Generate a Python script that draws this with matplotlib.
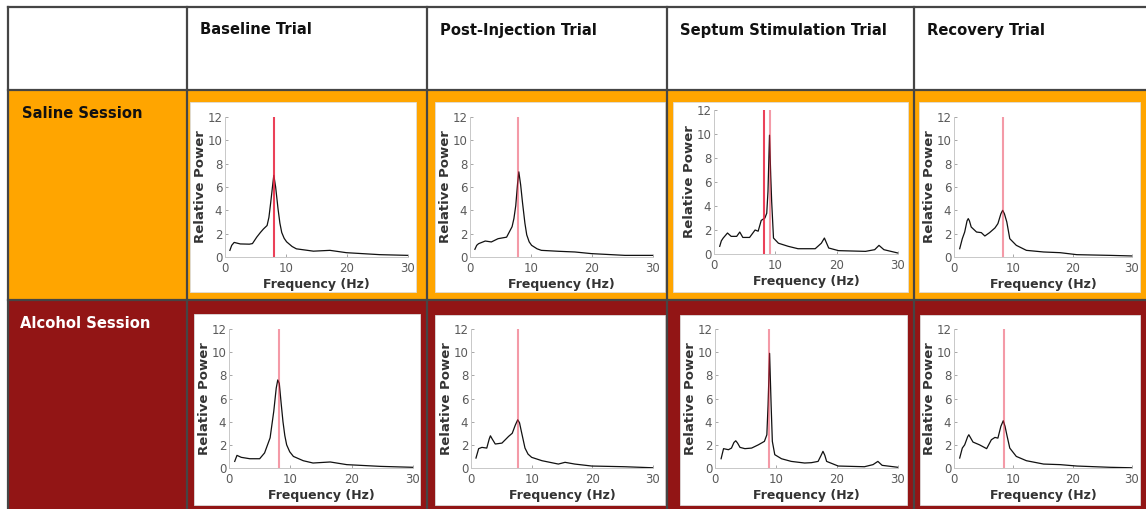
import matplotlib
matplotlib.use("Agg")
import matplotlib.pyplot as plt
from matplotlib.patches import Rectangle
from matplotlib.lines import Line2D

# ---- Spectra: frequency (Hz) and relative power, one pair per trial ----
saline_baseline_f = [0.8, 1.1, 1.5, 2.5, 4.0, 4.5, 5.2, 5.8, 6.3, 6.9, 7.2, 7.5, 7.8, 8.0, 8.3, 8.7, 9.0, 9.3, 9.7, 10.1, 11.0, 11.7, 14.5, 17.2, 19.9, 25.4, 30.0]
saline_baseline_p = [0.57, 1.0, 1.25, 1.12, 1.1, 1.15, 1.7, 2.1, 2.4, 2.7, 3.4, 4.7, 6.1, 7.0, 6.0, 4.1, 2.9, 2.1, 1.6, 1.3, 0.9, 0.7, 0.5, 0.57, 0.37, 0.2, 0.14]

saline_post_f = [0.8, 1.1, 1.4, 2.5, 3.5, 4.6, 6.0, 6.9, 7.2, 7.5, 7.8, 8.0, 8.3, 8.6, 9.0, 9.3, 9.7, 10.1, 11.0, 11.7, 14.5, 17.2, 19.9, 25.4, 30.0]
saline_post_p = [0.66, 1.0, 1.14, 1.37, 1.29, 1.57, 1.7, 2.6, 3.3, 4.4, 6.3, 7.3, 6.2, 4.7, 2.9, 1.9, 1.3, 1.0, 0.7, 0.57, 0.49, 0.43, 0.29, 0.14, 0.14]

saline_septum_f = [0.93, 1.2, 1.5, 2.2, 2.8, 3.7, 4.2, 4.7, 5.8, 6.7, 7.2, 7.7, 8.3, 8.6, 8.8, 9.05, 9.25, 9.4, 9.7, 10.5, 12.1, 13.7, 16.5, 17.5, 18.0, 18.7, 20.3, 24.7, 26.2, 26.9, 27.7, 30.0]
saline_septum_p = [0.64, 1.1, 1.33, 1.75, 1.47, 1.47, 1.83, 1.38, 1.38, 2.0, 1.9, 2.8, 3.0, 3.4, 5.2, 9.9, 6.5, 4.4, 1.33, 0.9, 0.64, 0.44, 0.44, 0.9, 1.33, 0.5, 0.28, 0.22, 0.36, 0.72, 0.36, 0.08]

saline_recovery_f = [0.96, 1.4, 1.8, 2.2, 2.4, 2.6, 2.9, 3.8, 4.6, 5.2, 6.0, 6.9, 7.4, 7.9, 8.2, 8.5, 8.9, 9.4, 10.5, 12.2, 15.1, 17.9, 20.7, 26.3, 30.0]
saline_recovery_p = [0.71, 1.57, 2.14, 3.1, 3.29, 3.1, 2.57, 2.14, 2.09, 1.8, 2.09, 2.49, 2.86, 3.7, 4.0, 3.7, 3.0, 1.57, 1.0, 0.57, 0.43, 0.37, 0.2, 0.14, 0.09]

alcohol_baseline_f = [0.93, 1.3, 2.0, 3.4, 5.0, 5.8, 6.7, 7.3, 7.7, 7.95, 8.2, 8.5, 8.8, 9.1, 9.4, 9.9, 10.5, 12.1, 13.7, 16.5, 19.2, 24.7, 30.0]
alcohol_baseline_p = [0.57, 1.09, 0.92, 0.8, 0.8, 1.3, 2.6, 4.9, 6.9, 7.6, 7.3, 5.6, 4.0, 2.8, 2.0, 1.4, 1.0, 0.63, 0.43, 0.52, 0.29, 0.14, 0.06]

alcohol_post_f = [0.82, 1.26, 1.8, 2.6, 3.0, 3.2, 3.5, 4.0, 5.1, 6.2, 6.8, 7.3, 7.7, 8.0, 8.3, 8.9, 9.4, 10.0, 11.7, 14.4, 15.5, 17.1, 19.9, 25.3, 30.0]
alcohol_post_p = [0.86, 1.67, 1.78, 1.72, 2.5, 2.78, 2.5, 2.07, 2.15, 2.73, 3.0, 3.7, 4.16, 3.9, 3.16, 1.72, 1.2, 0.92, 0.63, 0.34, 0.49, 0.34, 0.17, 0.11, 0.02]

alcohol_septum_f = [1.0, 1.4, 2.2, 2.7, 3.1, 3.4, 3.7, 4.1, 4.9, 6.0, 7.1, 8.1, 8.5, 8.7, 8.95, 9.2, 9.4, 9.8, 10.9, 12.5, 14.7, 15.8, 16.9, 17.4, 17.7, 18.0, 18.3, 20.2, 24.5, 25.9, 26.7, 27.4, 30.0]
alcohol_septum_p = [0.8, 1.67, 1.58, 1.72, 2.2, 2.35, 2.15, 1.78, 1.67, 1.72, 2.0, 2.3, 2.87, 5.45, 9.9, 5.45, 2.3, 1.15, 0.8, 0.57, 0.43, 0.46, 0.57, 1.1, 1.44, 1.1, 0.57, 0.17, 0.11, 0.29, 0.57, 0.23, 0.06]

alcohol_recovery_f = [0.96, 1.4, 1.8, 2.3, 2.5, 2.8, 3.2, 4.3, 5.5, 6.3, 6.9, 7.4, 7.9, 8.3, 8.6, 8.9, 9.4, 10.5, 12.2, 15.1, 17.9, 20.7, 26.3, 30.0]
alcohol_recovery_p = [0.86, 1.72, 2.0, 2.7, 2.87, 2.6, 2.24, 2.0, 1.67, 2.44, 2.64, 2.58, 3.6, 4.08, 3.6, 2.87, 1.72, 1.0, 0.63, 0.34, 0.29, 0.17, 0.06, 0.02]

# Peak-frequency markers (Hz) for each trial
saline_peaks = [[8.1], [7.9], [8.1, 9.1], [8.3]]
alcohol_peaks = [[8.1], [7.7], [8.9], [8.4]]

trial_names = ["Baseline Trial", "Post-Injection Trial", "Septum Stimulation Trial", "Recovery Trial"]
session_names = ["Saline Session", "Alcohol Session"]

spectra = [
    [(saline_baseline_f, saline_baseline_p), (saline_post_f, saline_post_p),
     (saline_septum_f, saline_septum_p), (saline_recovery_f, saline_recovery_p)],
    [(alcohol_baseline_f, alcohol_baseline_p), (alcohol_post_f, alcohol_post_p),
     (alcohol_septum_f, alcohol_septum_p), (alcohol_recovery_f, alcohol_recovery_p)],
]
peaks = [saline_peaks, alcohol_peaks]

# ---- Figure and layout helpers (pixel coordinates, origin top-left) ----
W, H = 1146, 509
fig = plt.figure(figsize=(W / 100, H / 100), dpi=100)
fig.patch.set_facecolor("white")


def rect(x0, y0, x1, y1, **kw):
    fig.add_artist(Rectangle((x0 / W, 1 - y1 / H), (x1 - x0) / W, (y1 - y0) / H,
                             transform=fig.transFigure, **kw))


def vline(x, y0, y1, **kw):
    fig.add_artist(Line2D([x / W, x / W], [1 - y0 / H, 1 - y1 / H], transform=fig.transFigure, **kw))


def hline(y, x0, x1, **kw):
    fig.add_artist(Line2D([x0 / W, x1 / W], [1 - y / H, 1 - y / H], transform=fig.transFigure, **kw))


ORANGE = "#FFA500"
DARKRED = "#921515"
GRID = "#454545"

# table rows
rect(8, 7, W, 90, facecolor="white", edgecolor="none", zorder=0)
rect(8, 90, W, 300, facecolor=ORANGE, edgecolor="none", zorder=0)
rect(8, 300, W, H + 5, facecolor=DARKRED, edgecolor="none", zorder=0)

col_x = [8, 187, 427, 667, 914]
for x in col_x:
    vline(x, 7, H + 5, color=GRID, lw=1.6, zorder=5)
for y in [7, 90, 300]:
    hline(y, 8, W, color=GRID, lw=1.6, zorder=5)

header_x = [200, 440, 680, 927]
for name, x in zip(trial_names, header_x):
    fig.text(x / W, 1 - 30 / H, name, fontsize=10.6, fontweight="bold", color="#111111",
             ha="left", va="center")
fig.text(22 / W, 1 - 113 / H, session_names[0], fontsize=10.6, fontweight="bold",
         color="#111111", ha="left", va="center")
fig.text(20 / W, 1 - 323 / H, session_names[1], fontsize=10.6, fontweight="bold",
         color="white", ha="left", va="center")

# white plot cards
cards = [
    [(190, 102, 416, 292), (435, 102, 665, 292), (673, 102, 908, 292), (919, 102, 1140, 292)],
    [(194, 314, 420, 505), (435, 315, 665, 505), (680, 315, 907, 505), (920, 315, 1140, 505)],
]
# axes extents: x at 0 Hz, x at 30 Hz, y at 12, y at 0
axes_px = [
    [(225, 408, 117, 257), (470, 653, 117, 257), (714, 898, 110, 254), (954, 1132, 117, 257)],
    [(229, 413, 329, 468), (471, 653, 329, 468), (715, 898, 329, 468), (954, 1132, 329, 468)],
]

TICK = "#5a5a5a"
LABEL = "#333333"
RED = "#e8203c"

for r in range(2):
    for c in range(4):
        x0, y0, x1, y1 = cards[r][c]
        rect(x0, y0, x1, y1, facecolor="white", edgecolor="#dddddd", lw=0.6, zorder=1)
        ax0, ax1, ay_top, ay_bot = axes_px[r][c]
        ax = fig.add_axes([ax0 / W, 1 - ay_bot / H, (ax1 - ax0) / W, (ay_bot - ay_top) / H])
        ax.set_zorder(3)
        ax.patch.set_alpha(0)
        f, p = spectra[r][c]
        ax.plot(f, p, color="#111111", lw=0.9, zorder=2)
        for i, pk in enumerate(peaks[r][c]):
            strong = (r == 0 and c == 0) or (r == 0 and c == 2 and i == 0)
            ax.axvline(pk, ymin=0, ymax=1, color=RED, lw=1.5,
                       alpha=0.85 if strong else 0.45, zorder=3)
        ax.set_xlim(0, 30)
        ax.set_ylim(0, 12)
        ax.set_xticks([0, 10, 20, 30])
        ax.set_yticks([0, 2, 4, 6, 8, 10, 12])
        for s in ["top", "right"]:
            ax.spines[s].set_visible(False)
        for s in ["left", "bottom"]:
            ax.spines[s].set_color("#c8c8c8")
            ax.spines[s].set_linewidth(0.7)
        ax.tick_params(direction="in", length=2.5, width=0.6, color="#999999",
                       labelsize=8.5, labelcolor=TICK, pad=2)
        ax.tick_params(axis="x", pad=3.5)
        ax.set_xlabel("Frequency (Hz)", fontsize=9, fontweight="bold", color=LABEL, labelpad=2)
        ax.set_ylabel("Relative Power", fontsize=9.5, fontweight="bold", color=LABEL, labelpad=0)

fig.savefig("out.png", dpi=100)
